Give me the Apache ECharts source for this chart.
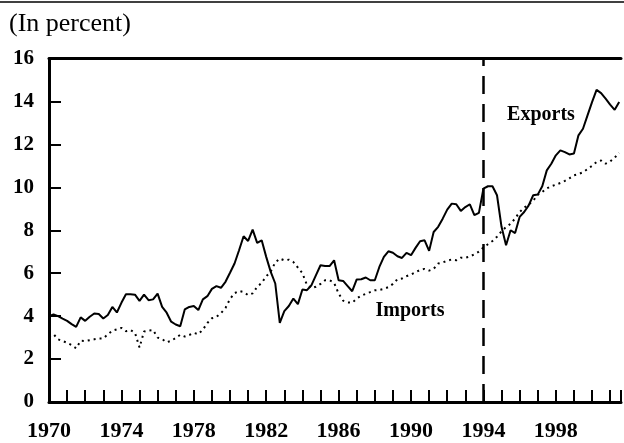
<!DOCTYPE html>
<html>
<head>
<meta charset="utf-8">
<script src="https://cdn.jsdelivr.net/npm/echarts@6/dist/echarts.min.js"></script>
<style>
  html, body { margin: 0; padding: 0; background: #fff; }
  #chart { width: 624px; height: 443px; }
</style>
</head>
<body>
<div id="chart"></div>
<script>
// quarterly shares, 1970Q1 .. 2001Q3
var startYear = 1970;
var exportsData = [
  4.0, 4.08, 4.0, 3.88,
  3.78, 3.63, 3.5, 3.94,
  3.78, 3.97, 4.12, 4.1,
  3.89, 4.05, 4.43, 4.17,
  4.62, 5.02, 5.02, 5.0,
  4.71, 5.0, 4.74, 4.78,
  5.05, 4.43, 4.16, 3.74,
  3.61, 3.53, 4.31, 4.43,
  4.47, 4.28, 4.78, 4.93,
  5.27, 5.4, 5.32, 5.6,
  6.02, 6.45, 7.07, 7.72,
  7.5, 8.03, 7.41, 7.53,
  6.76, 6.06, 5.52, 3.69,
  4.23, 4.47, 4.82, 4.56,
  5.24, 5.21, 5.44, 5.91,
  6.37, 6.34, 6.33, 6.6,
  5.67, 5.64, 5.4, 5.16,
  5.71, 5.72, 5.8, 5.67,
  5.67, 6.29, 6.76, 7.02,
  6.95, 6.79, 6.71, 6.95,
  6.84, 7.18, 7.49, 7.53,
  7.04, 7.92, 8.16, 8.54,
  8.96, 9.24, 9.21, 8.9,
  9.08, 9.21, 8.7, 8.81,
  9.94, 10.05, 10.05, 9.63,
  8.16, 7.3, 8.0, 7.87,
  8.62, 8.85, 9.16, 9.63,
  9.66, 10.05, 10.79, 11.1,
  11.49, 11.72, 11.64, 11.53,
  11.57, 12.42, 12.73, 13.35,
  13.97, 14.54, 14.39, 14.13,
  13.85, 13.61, 13.97
];
var importsData = [
  3.07, 3.16, 2.92, 2.84,
  2.76, 2.65, 2.5, 2.85,
  2.84, 2.88, 2.92, 2.96,
  2.96, 3.15, 3.32, 3.38,
  3.45, 3.3, 3.35, 3.22,
  2.54, 3.28, 3.33, 3.35,
  3.0, 2.93, 2.78, 2.85,
  2.98, 3.13, 3.05, 3.12,
  3.22, 3.16, 3.37, 3.68,
  3.9, 3.97, 4.14, 4.38,
  4.8, 5.07, 5.17, 5.12,
  4.98, 5.06, 5.36, 5.55,
  5.85, 6.08, 6.5, 6.68,
  6.6, 6.63, 6.52, 6.26,
  6.0, 5.45, 5.3, 5.37,
  5.5, 5.67, 5.67, 5.55,
  5.05, 4.72, 4.64, 4.62,
  4.82, 4.95, 5.04, 5.12,
  5.2, 5.22, 5.27, 5.35,
  5.5, 5.72, 5.75, 5.86,
  5.94, 6.04, 6.15, 6.2,
  6.12, 6.2, 6.45, 6.5,
  6.58, 6.64, 6.6, 6.72,
  6.72, 6.78, 6.88, 7.0,
  7.2, 7.35, 7.5, 7.7,
  7.95, 8.15, 8.3, 8.55,
  8.85, 9.05, 9.2, 9.38,
  9.65, 9.78, 9.95, 10.05,
  10.12, 10.2, 10.3, 10.42,
  10.56, 10.62, 10.7, 10.85,
  11.0, 11.18, 11.25, 11.1,
  11.2, 11.38, 11.6
];
var yearLabels = [1970, 1974, 1978, 1982, 1986, 1990, 1994, 1998];
var breakYear = 1994;

function toPairs(arr) {
  return arr.map(function (v, i) {
    return [startYear + i / 4, v];
  });
}

var serif = "'Liberation Serif', 'DejaVu Serif', serif";
var myChart = echarts.init(document.getElementById("chart"), null, { renderer: "canvas" });

var option = {
  animation: false,
  backgroundColor: "#fff",
  grid: {
    left: 49,
    right: 0,
    top: 58.5,
    bottom: 41,
  },
  xAxis: [
    {
      type: "value",
      min: 1970,
      max: 2001.6,
      interval: 1,
      splitLine: { show: false },
      axisLine: { lineStyle: { color: "#000", width: 3 } },
      axisTick: {
        inside: true,
        length: 12,
        lineStyle: { color: "#000", width: 2 },
      },
      axisLabel: {
        margin: 18,
        color: "#000",
        fontFamily: serif,
        fontWeight: "bold",
        fontSize: 22,
        formatter: function (v) {
          return yearLabels.indexOf(v) >= 0 ? String(v) : "";
        },
      },
    },
    {
      // top border of the plot
      type: "value",
      position: "top",
      min: 1970,
      max: 2001.6,
      axisLine: { show: true, lineStyle: { color: "#000", width: 3 } },
      axisTick: { show: false },
      axisLabel: { show: false },
      splitLine: { show: false },
    },
  ],
  yAxis: {
    type: "value",
    min: 0,
    max: 16,
    interval: 2,
    splitLine: { show: false },
    axisLine: { show: true, lineStyle: { color: "#000", width: 3 } },
    axisTick: {
      show: true,
      inside: true,
      length: 12,
      lineStyle: { color: "#000", width: 2 },
    },
    axisLabel: {
      margin: 15,
      color: "#000",
      fontFamily: serif,
      fontWeight: "bold",
      fontSize: 21,
    },
  },
  series: [
    {
      name: "Exports",
      type: "line",
      data: toPairs(exportsData),
      symbol: "none",
      lineStyle: { color: "#000", width: 2 },
      markLine: {
        silent: true,
        symbol: "none",
        label: { show: false },
        lineStyle: { color: "#000", width: 2.5, type: [18, 10] },
        data: [{ xAxis: breakYear }],
      },
    },
    {
      name: "Imports",
      type: "line",
      data: toPairs(importsData),
      symbol: "none",
      lineStyle: { color: "#000", width: 2, type: [2, 4] },
    },
  ],
  graphic: [
    {
      type: "line",
      shape: { x1: 0, y1: 2, x2: 624, y2: 2 },
      style: { stroke: "#000", lineWidth: 1.5 },
    },
    {
      type: "text",
      x: 9,
      y: 24,
      style: {
        text: "(In percent)",
        fill: "#000",
        font: "26px " + serif,
        textVerticalAlign: "middle",
      },
    },
    {
      type: "text",
      x: 541,
      y: 115,
      style: {
        text: "Exports",
        fill: "#000",
        font: "bold 20px " + serif,
        textAlign: "center",
        textVerticalAlign: "middle",
      },
    },
    {
      type: "text",
      x: 410,
      y: 311,
      style: {
        text: "Imports",
        fill: "#000",
        font: "bold 20px " + serif,
        textAlign: "center",
        textVerticalAlign: "middle",
      },
    },
  ],
};

myChart.setOption(option);
window.addEventListener("resize", () => {
  myChart.resize();
});
</script>
</body>
</html>
